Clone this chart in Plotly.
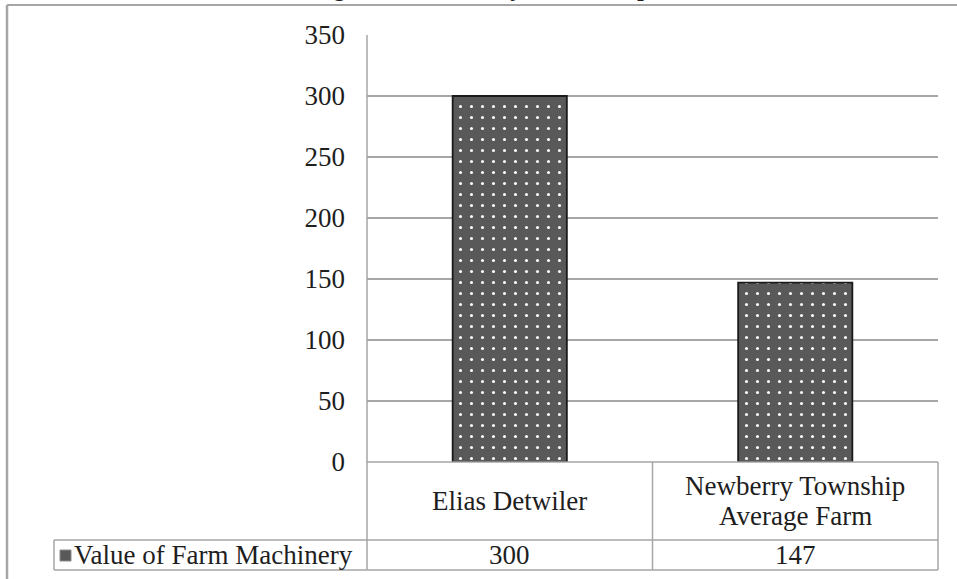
import plotly.graph_objects as go

# ---- data ----
categories = ["Elias Detwiler", "Newberry Township Average Farm"]
category_labels = [["Elias Detwiler"], ["Newberry Township", "Average Farm"]]
machinery_value = [300, 147]
series_name = "Value of Farm Machinery"
y_ticks = [0, 50, 100, 150, 200, 250, 300, 350]
title_text = "Tracking Farm Machinery in Township Farms, 1850"

# ---- geometry helpers (pixel -> paper) ----
W, H = 957, 579
L, R, T, B = 367, 19, 35, 117
PW = W - L - R
PH = H - T - B


def px_x(px):
    return (px - L) / PW


def px_y(py):
    return (H - B - py) / PH


FONT = "Liberation Serif"
FS = 27
TXT = "#1e1e1e"
GRID = "#a6a6a6"
BAR = "#595959"

fig = go.Figure()
fig.add_trace(go.Bar(
    x=categories,
    y=machinery_value,
    name=series_name,
    marker=dict(
        color=BAR,
        line=dict(color="#1a1a1a", width=1.8),
        pattern=dict(shape=".", fgcolor="white", bgcolor=BAR,
                     size=11, solidity=0.06, fillmode="replace"),
    ),
    showlegend=False,
))

shapes = []


def line(x0, y0, x1, y1, w=1.5, color=GRID):
    shapes.append(dict(type="line", xref="paper", yref="paper",
                       x0=px_x(x0), y0=px_y(y0), x1=px_x(x1), y1=px_y(y1),
                       line=dict(color=color, width=w)))


# outer frame (continues past the right and bottom edges)
line(7, 5, 1000, 5, w=2)
line(7, 5, 7, 600, w=2.5)

# axis line and data table grid
TABLE_TOP, ROW2, TABLE_BOT = 462, 540, 570
LABEL_LEFT = 54
COL1, COL2, COL3 = 367, 652.5, 938
line(COL1, 35, COL1, TABLE_BOT)
line(COL1, TABLE_TOP, COL3, TABLE_TOP)
line(COL2, TABLE_TOP, COL2, TABLE_BOT)
line(COL3, TABLE_TOP, COL3, TABLE_BOT)
line(LABEL_LEFT, ROW2, COL3, ROW2)
line(LABEL_LEFT, TABLE_BOT, COL3, TABLE_BOT)
line(LABEL_LEFT, ROW2, LABEL_LEFT, TABLE_BOT)

# legend key square in the table row header
shapes.append(dict(type="rect", xref="paper", yref="paper",
                   x0=px_x(60), x1=px_x(71), y0=px_y(561), y1=px_y(550),
                   fillcolor=BAR, line=dict(color="#8c8c8c", width=1)))

annotations = []
LINE_GAP = 30
header_mid = (TABLE_TOP + ROW2) / 2
for i, lines in enumerate(category_labels):
    first = header_mid - LINE_GAP * (len(lines) - 1) / 2
    for k, txt in enumerate(lines):
        annotations.append(dict(xref="x", yref="paper", x=categories[i],
                                y=px_y(first + k * LINE_GAP), text=txt,
                                showarrow=False, xanchor="center", yanchor="middle",
                                font=dict(family=FONT, size=FS, color=TXT)))
    annotations.append(dict(xref="x", yref="paper", x=categories[i],
                            y=px_y((ROW2 + TABLE_BOT) / 2), text=str(machinery_value[i]),
                            showarrow=False, xanchor="center", yanchor="middle",
                            font=dict(family=FONT, size=FS, color=TXT)))

annotations.append(dict(xref="paper", yref="paper", x=px_x(72),
                        y=px_y((ROW2 + TABLE_BOT) / 2), text=series_name,
                        showarrow=False, xanchor="left", yanchor="middle",
                        font=dict(family=FONT, size=FS, color=TXT)))

# chart title sitting above the frame
annotations.append(dict(xref="paper", yref="paper", x=px_x(520), y=px_y(3),
                        text="<b><i>" + title_text + "</i></b>",
                        showarrow=False, xanchor="center", yanchor="bottom",
                        font=dict(family=FONT, size=24, color=TXT)))

fig.update_layout(
    width=W, height=H,
    margin=dict(l=L, r=R, t=T, b=B, autoexpand=False),
    paper_bgcolor="white", plot_bgcolor="white",
    bargap=0.6,
    font=dict(family=FONT, size=FS, color=TXT),
    xaxis=dict(type="category", range=[-0.5, 1.5], showticklabels=False,
               showgrid=False, zeroline=False, showline=False, ticks=""),
    yaxis=dict(range=[0, 350], tickvals=y_ticks, showgrid=True,
               gridcolor=GRID, gridwidth=1.5, zeroline=False, showline=False,
               ticks="", ticklabelstandoff=21,
               tickfont=dict(family=FONT, size=FS, color=TXT)),
    shapes=shapes,
    annotations=annotations,
)

fig.write_html("out.html")
